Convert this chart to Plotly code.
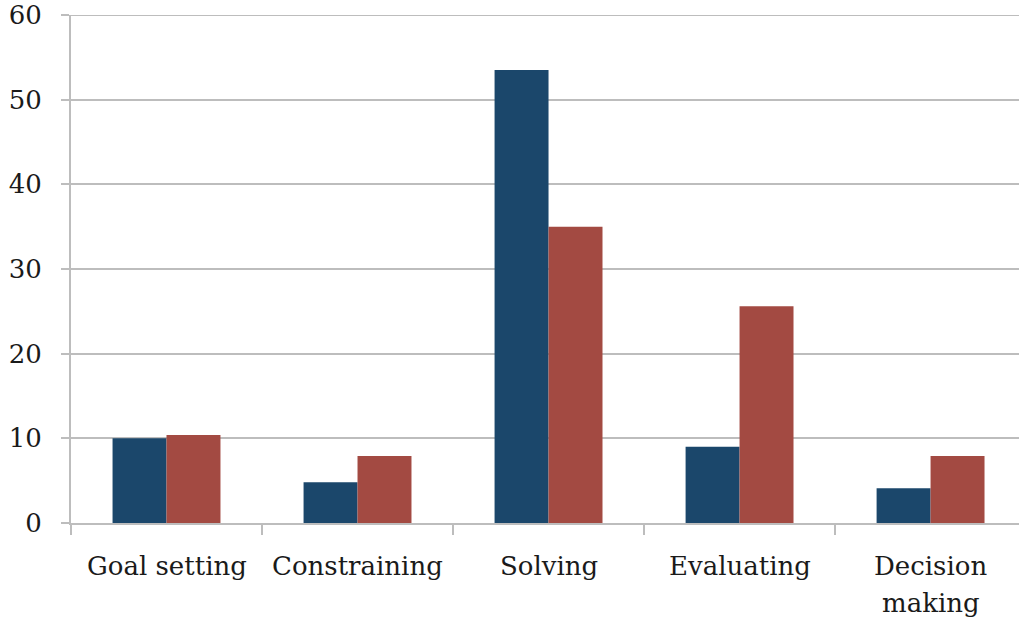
import plotly.graph_objects as go

categories = ["Goal setting", "Constraining", "Solving", "Evaluating", "Decision\nmaking"]
series_a = [10.0, 4.8, 53.5, 9.0, 4.1]
series_b = [10.4, 7.9, 35.0, 25.6, 7.9]
y_ticks = [0, 10, 20, 30, 40, 50, 60]

BLUE = "#1B476B"
RED = "#A34A42"
GRID = "#BDBDBD"
FONT = "DejaVu Serif"
TEXT = "#1a1a1a"

xs = list(range(len(categories)))
fig = go.Figure()
fig.add_trace(go.Bar(x=xs, y=series_a, marker=dict(color=BLUE, line=dict(width=0)), name="A"))
fig.add_trace(go.Bar(x=xs, y=series_b, marker=dict(color=RED, line=dict(width=0)), name="B"))

fig.update_layout(
    width=1019, height=621,
    margin=dict(l=71, r=0, t=15, b=98, autoexpand=False),
    paper_bgcolor="white", plot_bgcolor="white",
    barmode="group", bargap=0.435, bargroupgap=0,
    showlegend=False,
    font=dict(family=FONT, color=TEXT, size=26),
)
fig.update_xaxes(
    tickmode="array", tickvals=xs, ticktext=[""] * len(xs),
    range=[-0.5, 4.463],
    showline=True, linecolor=GRID, linewidth=2,
    ticks="", showticklabels=False,
    showgrid=False, zeroline=False, automargin=False,
    minor=dict(tickmode="array", tickvals=[-0.5, 0.5, 1.5, 2.5, 3.5], ticks="outside",
               ticklen=10, tickcolor=GRID, tickwidth=2, showgrid=False),
)
fig.update_yaxes(
    range=[y_ticks[0], y_ticks[-1]], tickmode="array", tickvals=y_ticks,
    showline=True, linecolor=GRID, linewidth=2,
    ticks="outside", ticklen=8, tickcolor=GRID, tickwidth=2,
    showgrid=True, gridcolor=GRID, gridwidth=2,
    zeroline=False, automargin=False,
    tickfont=dict(family=FONT, size=26, color=TEXT),
    ticklabelstandoff=14, ticklabeloverflow="allow",
)
# top gridline (Plotly omits the grid line at the range edge)
fig.add_shape(type="line", xref="paper", yref="y", x0=0, x1=1, y0=y_ticks[-1], y1=y_ticks[-1],
              line=dict(color=GRID, width=2), layer="below")

# category labels (with wider line spacing than <br> gives)
for i, cat in enumerate(categories):
    for k, line in enumerate(cat.split("\n")):
        fig.add_annotation(x=i, y=0, xref="x", yref="y", text=line, showarrow=False,
                           xanchor="center", yanchor="middle", yshift=-(43 + 37 * k),
                           font=dict(family=FONT, size=26, color=TEXT))

fig.write_html("out.html", config={"displayModeBar": False},
               post_script="document.body.style.margin='0';")
